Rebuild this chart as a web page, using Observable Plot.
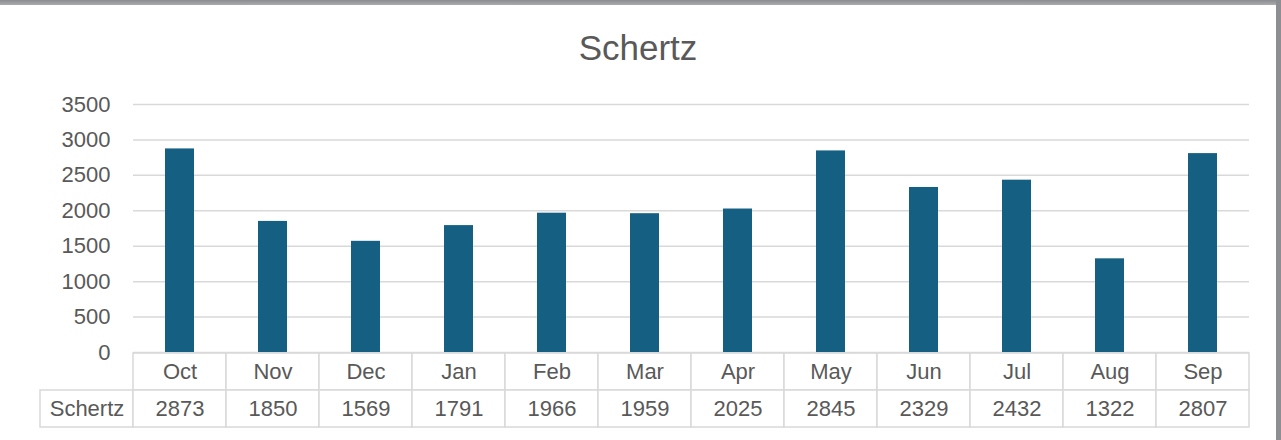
<!DOCTYPE html>
<html><head><meta charset="utf-8">
<script src="https://cdn.jsdelivr.net/npm/d3@7"></script>
<script src="https://cdn.jsdelivr.net/npm/@observablehq/plot@0.6"></script>
<style>
body{margin:0;background:#fff;}
#wrap{position:relative;width:1281px;height:440px;overflow:hidden;font-family:"Liberation Sans",Arial,sans-serif;background:#fff;}
#topbar{position:absolute;left:0;top:0;width:1281px;height:5px;background:linear-gradient(#8a8c8f,#a9abae);z-index:3;}
#rightbar{position:absolute;right:0;top:0;width:5px;height:440px;background:#8c8e91;z-index:3;}
#title{position:absolute;left:0;width:1276px;top:30px;line-height:35px;text-align:center;font-size:35px;color:#595959;}
#chart{position:absolute;left:0;top:80px;z-index:2;}
#table{position:absolute;left:0;top:351px;z-index:1;}
</style></head>
<body>
<div id="wrap">
  <div id="topbar"></div>
  <div id="rightbar"></div>
  <div id="title"></div>
  <div id="table"></div>
  <div id="chart"></div>
</div>
<script>
const chartTitle = "Schertz";
const seriesName = "Schertz";
const months = ["Oct","Nov","Dec","Jan","Feb","Mar","Apr","May","Jun","Jul","Aug","Sep"];
const values = [2873,1850,1569,1791,1966,1959,2025,2845,2329,2432,1322,2807];
const yTicks = [0,500,1000,1500,2000,2500,3000,3500];

document.getElementById("title").textContent = chartTitle;

const data = months.map((m,i)=>({month:m, value:values[i]}));
const textColor = "#595959";
const gridColor = "#d9d9d9";
const barColor = "#156082";
const font = '"Liberation Sans", Arial, sans-serif';

const chart = Plot.plot({
  width: 1276, height: 287,
  marginTop: 24, marginBottom: 15, marginLeft: 133, marginRight: 27,
  style: {fontFamily: font, color: textColor, background: "transparent", overflow: "visible"},
  x: {type: "band", domain: months, paddingInner: 0.69, paddingOuter: 0.345, axis: null},
  y: {domain: [0, 3500], label: null},
  marks: [
    Plot.ruleY(yTicks, {stroke: gridColor, strokeWidth: 1.5}),
    Plot.barY(data, {x: "month", y: "value", fill: barColor}),
    Plot.axisY({ticks: yTicks, tickFormat: d => String(d), tickSize: 0, tickPadding: 23, fontSize: 22, fill: textColor, label: null})
  ]
});
document.getElementById("chart").appendChild(chart);

const cells = [
  ...months.map(m => ({col: m, row: "header", text: m})),
  {col: seriesName, row: "value", text: seriesName},
  ...months.map((m,i) => ({col: m, row: "value", text: String(values[i])}))
];

const table = Plot.plot({
  width: 1276, height: 78,
  marginTop: 1, marginBottom: 2, marginLeft: 40, marginRight: 27,
  style: {fontFamily: font, color: textColor, background: "transparent"},
  x: {type: "band", domain: [seriesName, ...months], range: [40, 1249], padding: 0, axis: null},
  y: {type: "band", domain: ["header", "value"], padding: 0, axis: null},
  marks: [
    Plot.cell(cells, {x: "col", y: "row", fill: "white", stroke: gridColor, strokeWidth: 1.5, inset: 0}),
    Plot.text(cells, {x: "col", y: "row", text: "text", fontSize: 22, fill: textColor})
  ]
});
document.getElementById("table").appendChild(table);
</script>
</body></html>
